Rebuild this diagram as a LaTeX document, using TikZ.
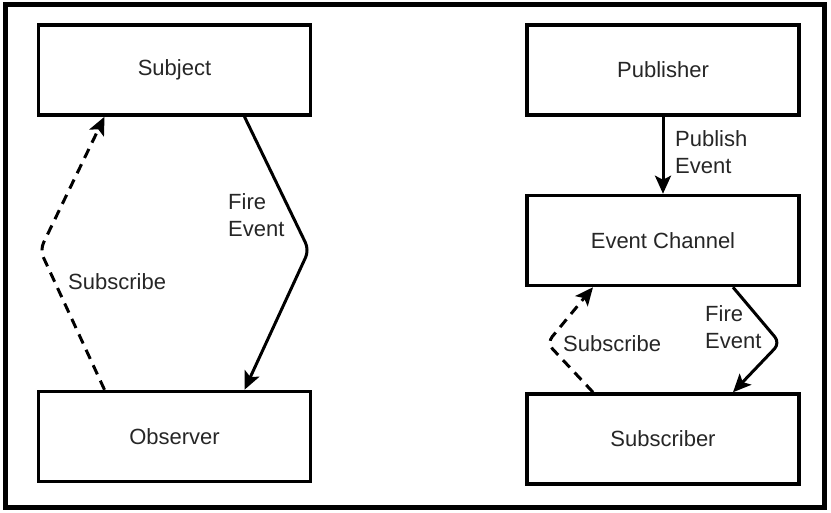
\documentclass[tikz,border=0pt]{standalone}
\usepackage{fontspec}
\setmainfont{Liberation Sans}
\usetikzlibrary{positioning, arrows.meta}

\begin{document}
\begin{tikzpicture}[
                x=1pt, y=-1pt,
                font=\fontsize{22}{27}\selectfont,
                >={Stealth[length=18pt, width=16pt, inset=4pt]},
                box/.style={draw, line width=3.5pt, minimum width=272pt, minimum height=90pt, inner sep=0pt, text=black!85},
                link/.style={->, line width=3pt, rounded corners=8pt},
                sublink/.style={link, dash pattern=on 10pt off 7pt},
                lbl/.style={anchor=west, align=left, inner sep=0pt, text=black!85}]

    \useasboundingbox (0,0) rectangle (831,513);
    \draw [line width=5pt] (5,5) rectangle (824,507);

    %%% OBSERVER NODES
    \node [box] (subject) at (174.5,70) {Subject};
    \node [box, below=273pt of subject] (observer) {Observer};
    \coordinate (firebend) at (309,250);
    \coordinate (subbend) at (40,250);

    %%% PUBLISH-SUBSCRIBE NODES
    \node [box] (publisher) at (663,70) {Publisher};
    \node [box, below=77pt of publisher] (eventchannel) {Event Channel};
    \node [box, below=105pt of eventchannel] (subscriber) {Subscriber};
    \coordinate (chfirebend) at (780,343);
    \coordinate (chsubbend) at (547,343);

    %%% CONNECTIONS
    \draw [link] ([xshift=70pt]subject.south) -- (firebend) -- ([xshift=70pt]observer.north);
    \draw [sublink] ([xshift=-70pt]observer.north) -- (subbend) -- ([xshift=-70pt]subject.south);
    \draw [link] (publisher) -- (eventchannel);
    \draw [link] ([xshift=70pt]eventchannel.south) -- (chfirebend) -- ([xshift=70pt]subscriber.north);
    \draw [sublink] ([xshift=-70pt]subscriber.north) -- (chsubbend) -- ([xshift=-70pt]eventchannel.south);

    %%% LABELS
    \node [lbl] (firelbl) at (228,215) {Fire\\Event};
    \node [lbl] (sublbl) at (68,282) {Subscribe};
    \node [lbl] (publbl) at (675,152) {Publish\\Event};
    \node [lbl] (chfirelbl) at (705,327) {Fire\\Event};
    \node [lbl] (chsublbl) at (563,344) {Subscribe};

\end{tikzpicture}
\end{document}
